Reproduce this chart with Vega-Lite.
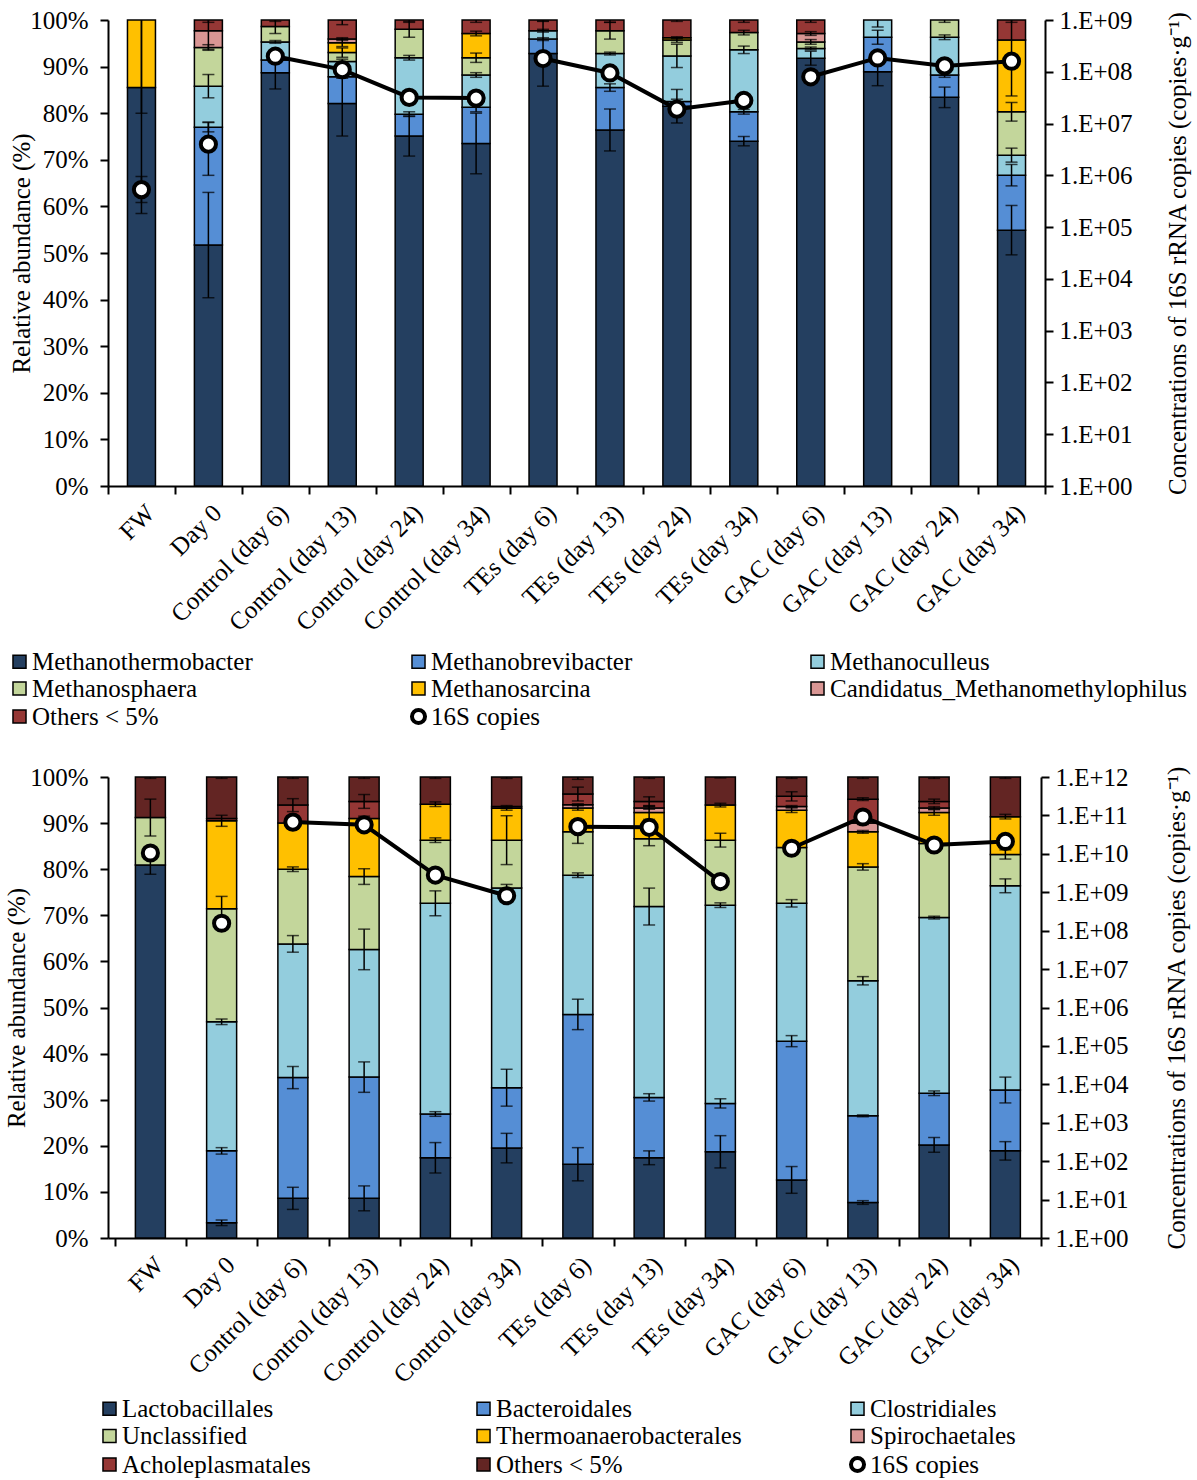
{
  "$schema": "https://vega.github.io/schema/vega-lite/v6.json",
  "padding": {"left": 4, "top": 8, "right": 4, "bottom": 4},
  "columns": 1,
  "align": "none",
  "spacing": 33,
  "resolve": {"scale": {"color": "independent"}, "legend": {"color": "independent"}},
  "config": {
    "font": "Liberation Serif",
    "view": {"stroke": null},
    "axis": {"domainColor": "black", "domainWidth": 2, "tickColor": "black", "tickWidth": 2, "tickSize": 8, "labelColor": "black", "labelFontSize": 25, "titleFontSize": 25, "titleFontWeight": "normal", "titleColor": "black", "grid": false, "labelFont": "Liberation Serif", "titleFont": "Liberation Serif"},
    "legend": {"labelFont": "Liberation Serif"}
  },
  "datasets": {
    "top": [
      {"sample": "FW", "taxon": "Methanothermobacter", "pct": 85.5, "sd": 27},
      {"sample": "FW", "taxon": "Methanosarcina", "pct": 14.5, "sd": 20},
      {"sample": "Day 0", "taxon": "Methanothermobacter", "pct": 51.7, "sd": 11.3},
      {"sample": "Day 0", "taxon": "Methanobrevibacter", "pct": 25.3, "sd": 1.0},
      {"sample": "Day 0", "taxon": "Methanoculleus", "pct": 8.8, "sd": 2.5},
      {"sample": "Day 0", "taxon": "Methanosphaera", "pct": 8.3, "sd": 0.6},
      {"sample": "Day 0", "taxon": "Candidatus_Methanomethylophilus", "pct": 3.6, "sd": 4},
      {"sample": "Day 0", "taxon": "Others < 5%", "pct": 2.3, "sd": 0.5},
      {"sample": "Control (day 6)", "taxon": "Methanothermobacter", "pct": 88.7, "sd": 3.5},
      {"sample": "Control (day 6)", "taxon": "Methanobrevibacter", "pct": 2.7, "sd": 0.3},
      {"sample": "Control (day 6)", "taxon": "Methanoculleus", "pct": 3.9, "sd": 0.3},
      {"sample": "Control (day 6)", "taxon": "Methanosphaera", "pct": 3.3, "sd": 1.5},
      {"sample": "Control (day 6)", "taxon": "Others < 5%", "pct": 1.4, "sd": 0.3},
      {"sample": "Control (day 13)", "taxon": "Methanothermobacter", "pct": 82.1, "sd": 7},
      {"sample": "Control (day 13)", "taxon": "Methanobrevibacter", "pct": 5.7, "sd": 0.3},
      {"sample": "Control (day 13)", "taxon": "Methanoculleus", "pct": 3.3, "sd": 0.5},
      {"sample": "Control (day 13)", "taxon": "Methanosphaera", "pct": 1.9, "sd": 1},
      {"sample": "Control (day 13)", "taxon": "Methanosarcina", "pct": 2.1, "sd": 0.8},
      {"sample": "Control (day 13)", "taxon": "Candidatus_Methanomethylophilus", "pct": 0.8, "sd": 0.3},
      {"sample": "Control (day 13)", "taxon": "Others < 5%", "pct": 4.1, "sd": 1},
      {"sample": "Control (day 24)", "taxon": "Methanothermobacter", "pct": 75.1, "sd": 4.3},
      {"sample": "Control (day 24)", "taxon": "Methanobrevibacter", "pct": 4.7, "sd": 0.5},
      {"sample": "Control (day 24)", "taxon": "Methanoculleus", "pct": 12.1, "sd": 0.5},
      {"sample": "Control (day 24)", "taxon": "Methanosphaera", "pct": 6.1, "sd": 1.7},
      {"sample": "Control (day 24)", "taxon": "Others < 5%", "pct": 2.0, "sd": 0.5},
      {"sample": "Control (day 34)", "taxon": "Methanothermobacter", "pct": 73.5, "sd": 6.5},
      {"sample": "Control (day 34)", "taxon": "Methanobrevibacter", "pct": 7.8, "sd": 1.0},
      {"sample": "Control (day 34)", "taxon": "Methanoculleus", "pct": 6.9, "sd": 0.5},
      {"sample": "Control (day 34)", "taxon": "Methanosphaera", "pct": 3.7, "sd": 1.0},
      {"sample": "Control (day 34)", "taxon": "Methanosarcina", "pct": 5.2, "sd": 0.5},
      {"sample": "Control (day 34)", "taxon": "Others < 5%", "pct": 2.9, "sd": 0.5},
      {"sample": "TEs (day 6)", "taxon": "Methanothermobacter", "pct": 92.8, "sd": 7},
      {"sample": "TEs (day 6)", "taxon": "Methanobrevibacter", "pct": 3.1, "sd": 0.3},
      {"sample": "TEs (day 6)", "taxon": "Methanoculleus", "pct": 1.8, "sd": 0.3},
      {"sample": "TEs (day 6)", "taxon": "Others < 5%", "pct": 2.3, "sd": 0.3},
      {"sample": "TEs (day 13)", "taxon": "Methanothermobacter", "pct": 76.4, "sd": 4.5},
      {"sample": "TEs (day 13)", "taxon": "Methanobrevibacter", "pct": 9.1, "sd": 0.8},
      {"sample": "TEs (day 13)", "taxon": "Methanoculleus", "pct": 7.3, "sd": 0.3},
      {"sample": "TEs (day 13)", "taxon": "Methanosphaera", "pct": 4.9, "sd": 1.8},
      {"sample": "TEs (day 13)", "taxon": "Others < 5%", "pct": 2.3, "sd": 0.5},
      {"sample": "TEs (day 24)", "taxon": "Methanothermobacter", "pct": 81.5, "sd": 3.6},
      {"sample": "TEs (day 24)", "taxon": "Methanobrevibacter", "pct": 1.0, "sd": 0.5},
      {"sample": "TEs (day 24)", "taxon": "Methanoculleus", "pct": 9.8, "sd": 2.5},
      {"sample": "TEs (day 24)", "taxon": "Methanosphaera", "pct": 3.4, "sd": 0.5},
      {"sample": "TEs (day 24)", "taxon": "Methanosarcina", "pct": 0.5, "sd": 0.2},
      {"sample": "TEs (day 24)", "taxon": "Others < 5%", "pct": 3.8, "sd": 0.3},
      {"sample": "TEs (day 34)", "taxon": "Methanothermobacter", "pct": 74.0, "sd": 1.0},
      {"sample": "TEs (day 34)", "taxon": "Methanobrevibacter", "pct": 6.3, "sd": 0.5},
      {"sample": "TEs (day 34)", "taxon": "Methanoculleus", "pct": 13.3, "sd": 0.8},
      {"sample": "TEs (day 34)", "taxon": "Methanosphaera", "pct": 3.7, "sd": 0.5},
      {"sample": "TEs (day 34)", "taxon": "Others < 5%", "pct": 2.7, "sd": 0.5},
      {"sample": "GAC (day 6)", "taxon": "Methanothermobacter", "pct": 91.8, "sd": 1.5},
      {"sample": "GAC (day 6)", "taxon": "Methanoculleus", "pct": 2.1, "sd": 0.3},
      {"sample": "GAC (day 6)", "taxon": "Methanosphaera", "pct": 1.4, "sd": 0.5},
      {"sample": "GAC (day 6)", "taxon": "Candidatus_Methanomethylophilus", "pct": 1.8, "sd": 0.4},
      {"sample": "GAC (day 6)", "taxon": "Others < 5%", "pct": 2.9, "sd": 0.5},
      {"sample": "GAC (day 13)", "taxon": "Methanothermobacter", "pct": 88.9, "sd": 3},
      {"sample": "GAC (day 13)", "taxon": "Methanobrevibacter", "pct": 7.4, "sd": 1.5},
      {"sample": "GAC (day 13)", "taxon": "Methanoculleus", "pct": 3.7, "sd": 1.5},
      {"sample": "GAC (day 24)", "taxon": "Methanothermobacter", "pct": 83.4, "sd": 2.2},
      {"sample": "GAC (day 24)", "taxon": "Methanobrevibacter", "pct": 4.8, "sd": 0.5},
      {"sample": "GAC (day 24)", "taxon": "Methanoculleus", "pct": 8.1, "sd": 0.5},
      {"sample": "GAC (day 24)", "taxon": "Methanosphaera", "pct": 3.7, "sd": 0.5},
      {"sample": "GAC (day 34)", "taxon": "Methanothermobacter", "pct": 54.9, "sd": 5.3},
      {"sample": "GAC (day 34)", "taxon": "Methanobrevibacter", "pct": 11.8, "sd": 2.3},
      {"sample": "GAC (day 34)", "taxon": "Methanoculleus", "pct": 4.3, "sd": 1.5},
      {"sample": "GAC (day 34)", "taxon": "Methanosphaera", "pct": 9.3, "sd": 2},
      {"sample": "GAC (day 34)", "taxon": "Methanosarcina", "pct": 15.4, "sd": 12},
      {"sample": "GAC (day 34)", "taxon": "Others < 5%", "pct": 4.3, "sd": 0.5}
    ],
    "topc": [
      {"sample": "FW", "series": "FW", "copies": 530000, "lo": 300000, "hi": 950000},
      {"sample": "Day 0", "series": "Day 0", "copies": 4000000, "lo": 1000000, "hi": 10700000},
      {"sample": "Control (day 6)", "series": "Control", "copies": 200000000},
      {"sample": "Control (day 13)", "series": "Control", "copies": 110000000},
      {"sample": "Control (day 24)", "series": "Control", "copies": 32000000},
      {"sample": "Control (day 34)", "series": "Control", "copies": 31000000},
      {"sample": "TEs (day 6)", "series": "TEs", "copies": 180000000},
      {"sample": "TEs (day 13)", "series": "TEs", "copies": 95000000},
      {"sample": "TEs (day 24)", "series": "TEs", "copies": 19000000},
      {"sample": "TEs (day 34)", "series": "TEs", "copies": 28000000},
      {"sample": "GAC (day 6)", "series": "GAC", "copies": 80000000},
      {"sample": "GAC (day 13)", "series": "GAC", "copies": 185000000},
      {"sample": "GAC (day 24)", "series": "GAC", "copies": 130000000},
      {"sample": "GAC (day 34)", "series": "GAC", "copies": 160000000}
    ],
    "bot": [
      {"sample": "FW", "taxon": "Lactobacillales", "pct": 80.9, "sd": 2},
      {"sample": "FW", "taxon": "Unclassified", "pct": 10.3, "sd": 4},
      {"sample": "FW", "taxon": "Others < 5%", "pct": 8.8, "sd": 0.3},
      {"sample": "Day 0", "taxon": "Lactobacillales", "pct": 3.3, "sd": 0.6},
      {"sample": "Day 0", "taxon": "Bacteroidales", "pct": 15.6, "sd": 0.7},
      {"sample": "Day 0", "taxon": "Clostridiales", "pct": 28.0, "sd": 0.6},
      {"sample": "Day 0", "taxon": "Unclassified", "pct": 24.5, "sd": 2.7},
      {"sample": "Day 0", "taxon": "Thermoanaerobacterales", "pct": 19.1, "sd": 1.2},
      {"sample": "Day 0", "taxon": "Acholeplasmatales", "pct": 0.5, "sd": 0},
      {"sample": "Day 0", "taxon": "Others < 5%", "pct": 9.0, "sd": 0.3},
      {"sample": "Control (day 6)", "taxon": "Lactobacillales", "pct": 8.6, "sd": 2.4},
      {"sample": "Control (day 6)", "taxon": "Bacteroidales", "pct": 26.2, "sd": 2.4},
      {"sample": "Control (day 6)", "taxon": "Clostridiales", "pct": 29.0, "sd": 1.8},
      {"sample": "Control (day 6)", "taxon": "Unclassified", "pct": 16.2, "sd": 0.5},
      {"sample": "Control (day 6)", "taxon": "Thermoanaerobacterales", "pct": 10.0, "sd": 1.3},
      {"sample": "Control (day 6)", "taxon": "Acholeplasmatales", "pct": 3.9, "sd": 1.4},
      {"sample": "Control (day 6)", "taxon": "Others < 5%", "pct": 6.1, "sd": 0.3},
      {"sample": "Control (day 13)", "taxon": "Lactobacillales", "pct": 8.6, "sd": 2.7},
      {"sample": "Control (day 13)", "taxon": "Bacteroidales", "pct": 26.3, "sd": 3.3},
      {"sample": "Control (day 13)", "taxon": "Clostridiales", "pct": 27.7, "sd": 4.4},
      {"sample": "Control (day 13)", "taxon": "Unclassified", "pct": 15.8, "sd": 1.7},
      {"sample": "Control (day 13)", "taxon": "Thermoanaerobacterales", "pct": 12.6, "sd": 0.5},
      {"sample": "Control (day 13)", "taxon": "Acholeplasmatales", "pct": 3.7, "sd": 1.5},
      {"sample": "Control (day 13)", "taxon": "Others < 5%", "pct": 5.3, "sd": 0.3},
      {"sample": "Control (day 24)", "taxon": "Lactobacillales", "pct": 17.4, "sd": 3.3},
      {"sample": "Control (day 24)", "taxon": "Bacteroidales", "pct": 9.5, "sd": 0.5},
      {"sample": "Control (day 24)", "taxon": "Clostridiales", "pct": 45.7, "sd": 2.7},
      {"sample": "Control (day 24)", "taxon": "Unclassified", "pct": 13.7, "sd": 0.5},
      {"sample": "Control (day 24)", "taxon": "Thermoanaerobacterales", "pct": 7.8, "sd": 0.5},
      {"sample": "Control (day 24)", "taxon": "Others < 5%", "pct": 5.9, "sd": 0.3},
      {"sample": "Control (day 34)", "taxon": "Lactobacillales", "pct": 19.5, "sd": 3.2},
      {"sample": "Control (day 34)", "taxon": "Bacteroidales", "pct": 13.1, "sd": 4},
      {"sample": "Control (day 34)", "taxon": "Clostridiales", "pct": 43.3, "sd": 0.8},
      {"sample": "Control (day 34)", "taxon": "Unclassified", "pct": 10.4, "sd": 5.3},
      {"sample": "Control (day 34)", "taxon": "Thermoanaerobacterales", "pct": 6.9, "sd": 0.4},
      {"sample": "Control (day 34)", "taxon": "Acholeplasmatales", "pct": 0.4, "sd": 0.2},
      {"sample": "Control (day 34)", "taxon": "Others < 5%", "pct": 6.4, "sd": 0.3},
      {"sample": "TEs (day 6)", "taxon": "Lactobacillales", "pct": 16.0, "sd": 3.6},
      {"sample": "TEs (day 6)", "taxon": "Bacteroidales", "pct": 32.5, "sd": 3.3},
      {"sample": "TEs (day 6)", "taxon": "Clostridiales", "pct": 30.2, "sd": 0.5},
      {"sample": "TEs (day 6)", "taxon": "Unclassified", "pct": 9.4, "sd": 2.5},
      {"sample": "TEs (day 6)", "taxon": "Thermoanaerobacterales", "pct": 5.2, "sd": 0.5},
      {"sample": "TEs (day 6)", "taxon": "Spirochaetales", "pct": 0.7, "sd": 0.2},
      {"sample": "TEs (day 6)", "taxon": "Acholeplasmatales", "pct": 2.3, "sd": 1.5},
      {"sample": "TEs (day 6)", "taxon": "Others < 5%", "pct": 3.7, "sd": 0.5},
      {"sample": "TEs (day 13)", "taxon": "Lactobacillales", "pct": 17.4, "sd": 1.5},
      {"sample": "TEs (day 13)", "taxon": "Bacteroidales", "pct": 13.1, "sd": 0.8},
      {"sample": "TEs (day 13)", "taxon": "Clostridiales", "pct": 41.4, "sd": 4},
      {"sample": "TEs (day 13)", "taxon": "Unclassified", "pct": 14.7, "sd": 1.5},
      {"sample": "TEs (day 13)", "taxon": "Thermoanaerobacterales", "pct": 5.7, "sd": 1.5},
      {"sample": "TEs (day 13)", "taxon": "Spirochaetales", "pct": 1.0, "sd": 0.3},
      {"sample": "TEs (day 13)", "taxon": "Acholeplasmatales", "pct": 1.4, "sd": 1},
      {"sample": "TEs (day 13)", "taxon": "Others < 5%", "pct": 5.3, "sd": 0.3},
      {"sample": "TEs (day 34)", "taxon": "Lactobacillales", "pct": 18.7, "sd": 3.5},
      {"sample": "TEs (day 34)", "taxon": "Bacteroidales", "pct": 10.5, "sd": 1},
      {"sample": "TEs (day 34)", "taxon": "Clostridiales", "pct": 43.0, "sd": 0.5},
      {"sample": "TEs (day 34)", "taxon": "Unclassified", "pct": 14.1, "sd": 1.5},
      {"sample": "TEs (day 34)", "taxon": "Thermoanaerobacterales", "pct": 7.6, "sd": 0.4},
      {"sample": "TEs (day 34)", "taxon": "Others < 5%", "pct": 6.1, "sd": 0.2},
      {"sample": "GAC (day 6)", "taxon": "Lactobacillales", "pct": 12.6, "sd": 2.9},
      {"sample": "GAC (day 6)", "taxon": "Bacteroidales", "pct": 30.1, "sd": 1.2},
      {"sample": "GAC (day 6)", "taxon": "Clostridiales", "pct": 29.9, "sd": 0.8},
      {"sample": "GAC (day 6)", "taxon": "Unclassified", "pct": 12.1, "sd": 0.5},
      {"sample": "GAC (day 6)", "taxon": "Thermoanaerobacterales", "pct": 8.1, "sd": 0.5},
      {"sample": "GAC (day 6)", "taxon": "Spirochaetales", "pct": 0.8, "sd": 0.2},
      {"sample": "GAC (day 6)", "taxon": "Acholeplasmatales", "pct": 2.2, "sd": 1},
      {"sample": "GAC (day 6)", "taxon": "Others < 5%", "pct": 4.2, "sd": 0.3},
      {"sample": "GAC (day 13)", "taxon": "Lactobacillales", "pct": 7.7, "sd": 0.4},
      {"sample": "GAC (day 13)", "taxon": "Bacteroidales", "pct": 18.8, "sd": 0.2},
      {"sample": "GAC (day 13)", "taxon": "Clostridiales", "pct": 29.3, "sd": 0.9},
      {"sample": "GAC (day 13)", "taxon": "Unclassified", "pct": 24.7, "sd": 0.7},
      {"sample": "GAC (day 13)", "taxon": "Thermoanaerobacterales", "pct": 7.6, "sd": 0.3},
      {"sample": "GAC (day 13)", "taxon": "Spirochaetales", "pct": 1.9, "sd": 0.3},
      {"sample": "GAC (day 13)", "taxon": "Acholeplasmatales", "pct": 5.2, "sd": 0.3},
      {"sample": "GAC (day 13)", "taxon": "Others < 5%", "pct": 4.8, "sd": 0.3},
      {"sample": "GAC (day 24)", "taxon": "Lactobacillales", "pct": 20.2, "sd": 1.6},
      {"sample": "GAC (day 24)", "taxon": "Bacteroidales", "pct": 11.2, "sd": 0.5},
      {"sample": "GAC (day 24)", "taxon": "Clostridiales", "pct": 38.1, "sd": 0.3},
      {"sample": "GAC (day 24)", "taxon": "Unclassified", "pct": 16.1, "sd": 0.5},
      {"sample": "GAC (day 24)", "taxon": "Thermoanaerobacterales", "pct": 6.7, "sd": 0.6},
      {"sample": "GAC (day 24)", "taxon": "Spirochaetales", "pct": 1.0, "sd": 0.3},
      {"sample": "GAC (day 24)", "taxon": "Acholeplasmatales", "pct": 1.4, "sd": 0.5},
      {"sample": "GAC (day 24)", "taxon": "Others < 5%", "pct": 5.3, "sd": 0.3},
      {"sample": "GAC (day 34)", "taxon": "Lactobacillales", "pct": 18.9, "sd": 2},
      {"sample": "GAC (day 34)", "taxon": "Bacteroidales", "pct": 13.2, "sd": 2.8},
      {"sample": "GAC (day 34)", "taxon": "Clostridiales", "pct": 44.3, "sd": 1.5},
      {"sample": "GAC (day 34)", "taxon": "Unclassified", "pct": 6.8, "sd": 1},
      {"sample": "GAC (day 34)", "taxon": "Thermoanaerobacterales", "pct": 8.2, "sd": 0.5},
      {"sample": "GAC (day 34)", "taxon": "Others < 5%", "pct": 8.6, "sd": 0.3}
    ],
    "botc": [
      {"sample": "FW", "series": "FW", "copies": 10500000000},
      {"sample": "Day 0", "series": "Day 0", "copies": 156000000},
      {"sample": "Control (day 6)", "series": "Control", "copies": 67000000000},
      {"sample": "Control (day 13)", "series": "Control", "copies": 57000000000},
      {"sample": "Control (day 24)", "series": "Control", "copies": 2800000000},
      {"sample": "Control (day 34)", "series": "Control", "copies": 810000000},
      {"sample": "TEs (day 6)", "series": "TEs", "copies": 51000000000},
      {"sample": "TEs (day 13)", "series": "TEs", "copies": 49000000000},
      {"sample": "TEs (day 34)", "series": "TEs", "copies": 1900000000},
      {"sample": "GAC (day 6)", "series": "GAC", "copies": 14000000000},
      {"sample": "GAC (day 13)", "series": "GAC", "copies": 91000000000},
      {"sample": "GAC (day 24)", "series": "GAC", "copies": 17000000000},
      {"sample": "GAC (day 34)", "series": "GAC", "copies": 21000000000}
    ]
  },
  "concat": [
    {
      "width": 937,
      "height": 466,
      "layer": [
        {
          "data": {"name": "top"},
          "transform": [{"stack": "pct", "groupby": ["sample"], "as": ["y0", "y1"]}],
          "layer": [
            {
              "mark": {"type": "bar", "width": 28, "stroke": "black", "strokeWidth": 1.5},
              "encoding": {
                "x": {"field": "sample", "type": "nominal", "sort": ["FW", "Day 0", "Control (day 6)", "Control (day 13)", "Control (day 24)", "Control (day 34)", "TEs (day 6)", "TEs (day 13)", "TEs (day 24)", "TEs (day 34)", "GAC (day 6)", "GAC (day 13)", "GAC (day 24)", "GAC (day 34)"], "scale": {"paddingInner": 0, "paddingOuter": 0}, "axis": {"title": null, "labelAngle": -45, "tickBand": "extent", "labelPadding": 6}},
                "y": {"field": "y1", "type": "quantitative", "scale": {"domain": [0, 100]}, "axis": {"title": "Relative abundance (%)", "values": [0, 10, 20, 30, 40, 50, 60, 70, 80, 90, 100], "labelExpr": "datum.value + '%'", "labelPadding": 12, "titlePadding": -5}},
                "y2": {"field": "y0"},
                "color": {
                  "field": "taxon", "type": "nominal",
                  "scale": {
                    "domain": ["Methanothermobacter", "Methanobrevibacter", "Methanoculleus", "Methanosphaera", "Methanosarcina", "Candidatus_Methanomethylophilus", "Others < 5%", "16S copies"],
                    "range": ["#243F60", "#558ED5", "#93CDDD", "#C3D69B", "#FFC000", "#D99694", "#953735", "#FFFFFF"]
                  },
                  "legend": {
                    "title": null, "orient": "none", "direction": "horizontal", "legendX": -101, "legendY": 628, "columns": 3, "gridAlign": "all", "columnPadding": 14, "rowPadding": -5.5,
                    "labelFontSize": 25, "labelColor": "black", "labelLimit": 600, "labelOffset": 0,
                    "symbolType": "square", "symbolSize": 170, "symbolStrokeColor": "black", "symbolStrokeWidth": 1.5, "symbolOpacity": 1,
                    "encode": {"symbols": {"update": {
                      "shape": {"signal": "datum.value === '16S copies' ? 'circle' : 'square'"},
                      "strokeWidth": {"signal": "datum.value === '16S copies' ? 4 : 1.5"},
                      "size": {"signal": "datum.value === '16S copies' ? 170 : 170"}
                    }}}
                  }
                }
              }
            },
            {
              "transform": [{"filter": "datum.sd > 0"}],
              "mark": {"type": "errorbar", "clip": true, "color": "black", "ticks": {"size": 12, "thickness": 1.5, "color": "black"}, "rule": {"strokeWidth": 1.5, "color": "black"}},
              "encoding": {
                "x": {"field": "sample", "type": "nominal", "sort": ["FW", "Day 0", "Control (day 6)", "Control (day 13)", "Control (day 24)", "Control (day 34)", "TEs (day 6)", "TEs (day 13)", "TEs (day 24)", "TEs (day 34)", "GAC (day 6)", "GAC (day 13)", "GAC (day 24)", "GAC (day 34)"], "axis": {"title": null, "labelAngle": -45, "tickBand": "extent", "labelPadding": 6}},
                "y": {"field": "y1", "type": "quantitative", "axis": {"title": "Relative abundance (%)", "values": [0, 10, 20, 30, 40, 50, 60, 70, 80, 90, 100], "labelExpr": "datum.value + '%'", "labelPadding": 12, "titlePadding": -5}},
                "yError": {"field": "sd"}
              }
            }
          ]
        },
        {
          "data": {"name": "topc"},
          "layer": [
            {
              "mark": {"type": "line", "color": "black", "strokeWidth": 4},
              "encoding": {
                "x": {"field": "sample", "type": "nominal", "sort": ["FW", "Day 0", "Control (day 6)", "Control (day 13)", "Control (day 24)", "Control (day 34)", "TEs (day 6)", "TEs (day 13)", "TEs (day 24)", "TEs (day 34)", "GAC (day 6)", "GAC (day 13)", "GAC (day 24)", "GAC (day 34)"], "axis": {"title": null, "labelAngle": -45, "tickBand": "extent", "labelPadding": 6}},
                "y": {"field": "copies", "type": "quantitative", "scale": {"type": "log", "domain": [1, 1000000000]}, "axis": {"orient": "right", "title": "Concentrations of 16S rRNA copies (copies·g⁻¹)", "titleAngle": 270, "titleBaseline": "top", "values": [1, 10, 100, 1000, 10000, 100000, 1000000, 10000000, 100000000, 1000000000], "labelExpr": "'1.E+' + (datum.value < 1e10 ? '0' : '') + format(log(datum.value) / LN10, '.0f')", "labelPadding": 6, "titlePadding": 33}},
                "detail": {"field": "series"}
              }
            },
            {
              "transform": [{"filter": "isValid(datum.lo)"}],
              "mark": {"type": "errorbar", "color": "black", "ticks": {"size": 12, "thickness": 1.5, "color": "black"}, "rule": {"strokeWidth": 1.5, "color": "black"}},
              "encoding": {
                "x": {"field": "sample", "type": "nominal", "sort": ["FW", "Day 0", "Control (day 6)", "Control (day 13)", "Control (day 24)", "Control (day 34)", "TEs (day 6)", "TEs (day 13)", "TEs (day 24)", "TEs (day 34)", "GAC (day 6)", "GAC (day 13)", "GAC (day 24)", "GAC (day 34)"], "axis": {"title": null, "labelAngle": -45, "tickBand": "extent", "labelPadding": 6}},
                "y": {"field": "lo", "type": "quantitative", "axis": {"orient": "right", "title": "Concentrations of 16S rRNA copies (copies·g⁻¹)", "titleAngle": 270, "titleBaseline": "top", "values": [1, 10, 100, 1000, 10000, 100000, 1000000, 10000000, 100000000, 1000000000], "labelExpr": "'1.E+' + (datum.value < 1e10 ? '0' : '') + format(log(datum.value) / LN10, '.0f')", "labelPadding": 6, "titlePadding": 33}},
                "y2": {"field": "hi"}
              }
            },
            {
              "mark": {"type": "point", "shape": "circle", "filled": true, "fill": "white", "stroke": "black", "strokeWidth": 4, "size": 230, "opacity": 1},
              "encoding": {
                "x": {"field": "sample", "type": "nominal", "sort": ["FW", "Day 0", "Control (day 6)", "Control (day 13)", "Control (day 24)", "Control (day 34)", "TEs (day 6)", "TEs (day 13)", "TEs (day 24)", "TEs (day 34)", "GAC (day 6)", "GAC (day 13)", "GAC (day 24)", "GAC (day 34)"], "axis": {"title": null, "labelAngle": -45, "tickBand": "extent", "labelPadding": 6}},
                "y": {"field": "copies", "type": "quantitative", "axis": {"orient": "right", "title": "Concentrations of 16S rRNA copies (copies·g⁻¹)", "titleAngle": 270, "titleBaseline": "top", "values": [1, 10, 100, 1000, 10000, 100000, 1000000, 10000000, 100000000, 1000000000], "labelExpr": "'1.E+' + (datum.value < 1e10 ? '0' : '') + format(log(datum.value) / LN10, '.0f')", "labelPadding": 6, "titlePadding": 33}}
              }
            }
          ]
        }
      ],
      "resolve": {"scale": {"y": "independent"}}
    },
    {
      "width": 933,
      "height": 461,
      "layer": [
        {
          "data": {"name": "bot"},
          "transform": [{"stack": "pct", "groupby": ["sample"], "as": ["y0", "y1"]}],
          "layer": [
            {
              "mark": {"type": "bar", "width": 30, "stroke": "black", "strokeWidth": 1.5},
              "encoding": {
                "x": {"field": "sample", "type": "nominal", "sort": ["FW", "Day 0", "Control (day 6)", "Control (day 13)", "Control (day 24)", "Control (day 34)", "TEs (day 6)", "TEs (day 13)", "TEs (day 34)", "GAC (day 6)", "GAC (day 13)", "GAC (day 24)", "GAC (day 34)"], "scale": {"paddingInner": 0, "paddingOuter": 0.0474, "align": 1}, "axis": {"title": null, "labelAngle": -45, "tickBand": "extent", "labelPadding": 6}},
                "y": {"field": "y1", "type": "quantitative", "scale": {"domain": [0, 100]}, "axis": {"title": "Relative abundance (%)", "values": [0, 10, 20, 30, 40, 50, 60, 70, 80, 90, 100], "labelExpr": "datum.value + '%'", "labelPadding": 12, "titlePadding": 0}},
                "y2": {"field": "y0"},
                "color": {
                  "field": "taxon", "type": "nominal",
                  "scale": {
                    "domain": ["Lactobacillales", "Bacteroidales", "Clostridiales", "Unclassified", "Thermoanaerobacterales", "Spirochaetales", "Acholeplasmatales", "Others < 5%", "16S copies"],
                    "range": ["#243F60", "#558ED5", "#93CDDD", "#C3D69B", "#FFC000", "#D99694", "#953735", "#632523", "#FFFFFF"]
                  },
                  "legend": {
                    "title": null, "orient": "none", "direction": "horizontal", "legendX": -11, "legendY": 618, "columns": 3, "gridAlign": "all", "columnPadding": 100, "rowPadding": -2.5,
                    "labelFontSize": 25, "labelColor": "black", "labelLimit": 600, "labelOffset": 0,
                    "symbolType": "square", "symbolSize": 170, "symbolStrokeColor": "black", "symbolStrokeWidth": 1.5, "symbolOpacity": 1,
                    "encode": {"symbols": {"update": {
                      "shape": {"signal": "datum.value === '16S copies' ? 'circle' : 'square'"},
                      "strokeWidth": {"signal": "datum.value === '16S copies' ? 4 : 1.5"},
                      "size": {"signal": "datum.value === '16S copies' ? 170 : 170"}
                    }}}
                  }
                }
              }
            },
            {
              "transform": [{"filter": "datum.sd > 0"}],
              "mark": {"type": "errorbar", "clip": true, "color": "black", "ticks": {"size": 12, "thickness": 1.5, "color": "black"}, "rule": {"strokeWidth": 1.5, "color": "black"}},
              "encoding": {
                "x": {"field": "sample", "type": "nominal", "sort": ["FW", "Day 0", "Control (day 6)", "Control (day 13)", "Control (day 24)", "Control (day 34)", "TEs (day 6)", "TEs (day 13)", "TEs (day 34)", "GAC (day 6)", "GAC (day 13)", "GAC (day 24)", "GAC (day 34)"], "axis": {"title": null, "labelAngle": -45, "tickBand": "extent", "labelPadding": 6}},
                "y": {"field": "y1", "type": "quantitative", "axis": {"title": "Relative abundance (%)", "values": [0, 10, 20, 30, 40, 50, 60, 70, 80, 90, 100], "labelExpr": "datum.value + '%'", "labelPadding": 12, "titlePadding": 0}},
                "yError": {"field": "sd"}
              }
            }
          ]
        },
        {
          "data": {"name": "botc"},
          "layer": [
            {
              "mark": {"type": "line", "color": "black", "strokeWidth": 4},
              "encoding": {
                "x": {"field": "sample", "type": "nominal", "sort": ["FW", "Day 0", "Control (day 6)", "Control (day 13)", "Control (day 24)", "Control (day 34)", "TEs (day 6)", "TEs (day 13)", "TEs (day 34)", "GAC (day 6)", "GAC (day 13)", "GAC (day 24)", "GAC (day 34)"], "axis": {"title": null, "labelAngle": -45, "tickBand": "extent", "labelPadding": 6}},
                "y": {"field": "copies", "type": "quantitative", "scale": {"type": "log", "domain": [1, 1000000000000]}, "axis": {"orient": "right", "title": "Concentrations of 16S rRNA copies (copies·g⁻¹)", "titleAngle": 270, "titleBaseline": "top", "values": [1, 10, 100, 1000, 10000, 100000, 1000000, 10000000, 100000000, 1000000000, 10000000000, 100000000000, 1000000000000], "labelExpr": "'1.E+' + (datum.value < 1e10 ? '0' : '') + format(log(datum.value) / LN10, '.0f')", "labelPadding": 6, "titlePadding": 36}},
                "detail": {"field": "series"}
              }
            },
            {
              "mark": {"type": "point", "shape": "circle", "filled": true, "fill": "white", "stroke": "black", "strokeWidth": 4, "size": 230, "opacity": 1},
              "encoding": {
                "x": {"field": "sample", "type": "nominal", "sort": ["FW", "Day 0", "Control (day 6)", "Control (day 13)", "Control (day 24)", "Control (day 34)", "TEs (day 6)", "TEs (day 13)", "TEs (day 34)", "GAC (day 6)", "GAC (day 13)", "GAC (day 24)", "GAC (day 34)"], "axis": {"title": null, "labelAngle": -45, "tickBand": "extent", "labelPadding": 6}},
                "y": {"field": "copies", "type": "quantitative", "axis": {"orient": "right", "title": "Concentrations of 16S rRNA copies (copies·g⁻¹)", "titleAngle": 270, "titleBaseline": "top", "values": [1, 10, 100, 1000, 10000, 100000, 1000000, 10000000, 100000000, 1000000000, 10000000000, 100000000000, 1000000000000], "labelExpr": "'1.E+' + (datum.value < 1e10 ? '0' : '') + format(log(datum.value) / LN10, '.0f')", "labelPadding": 6, "titlePadding": 36}}
              }
            }
          ]
        }
      ],
      "resolve": {"scale": {"y": "independent"}}
    }
  ]
}
